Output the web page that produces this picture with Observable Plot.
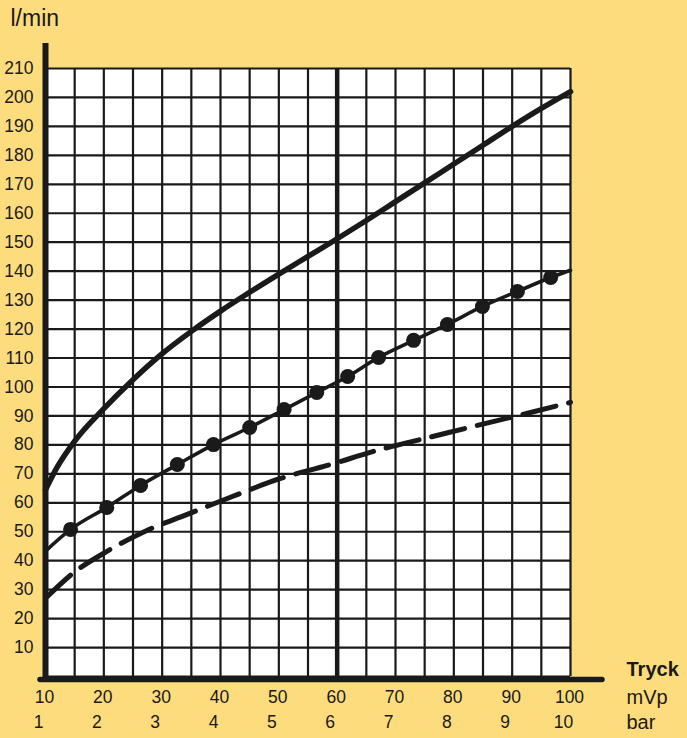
<!DOCTYPE html>
<html>
<head>
<meta charset="utf-8">
<script src="https://cdn.jsdelivr.net/npm/d3@7"></script>
<script src="https://cdn.jsdelivr.net/npm/@observablehq/plot@0.6"></script>
<style>
  html, body { margin: 0; padding: 0; background: #FDDC7E; }
</style>
</head>
<body>
<div id="chart"></div>
<script>
// Tick labels
const mvpTicks = [10, 20, 30, 40, 50, 60, 70, 80, 90, 100];
const barTicks = [1, 2, 3, 4, 5, 6, 7, 8, 9, 10];
const flowTicks = [10, 20, 30, 40, 50, 60, 70, 80, 90, 100, 110, 120, 130, 140, 150, 160, 170, 180, 190, 200, 210];

// Series: [pressure mVp, flow l/min]
const topCurve = [
  [10, 64.5], [12, 72.3], [15, 81.3], [20, 92.5], [25, 102.5], [30, 111.5],
  [35, 119.2], [40, 126.2], [45, 132.7], [50, 139], [55, 145.1], [60, 151.2],
  [65, 157.5], [70, 164], [75, 170.5], [80, 177], [85, 183.5], [90, 190],
  [95, 196.2], [100, 202]
];
const dottedPoints = [
  [14.3, 50.8], [20.5, 58.4], [26.3, 66], [32.6, 73.2], [38.8, 80.1], [45, 86],
  [50.9, 92.2], [56.5, 98.1], [61.8, 103.6], [67.1, 110.2], [73.1, 116.1],
  [78.9, 121.6], [84.9, 127.8], [90.9, 133], [96.6, 137.8]
];
const dottedStart = [10, 43.3];
const dottedEnd = [100, 140.3];
const dashedCurve = [
  [10, 27], [14.6, 35.5], [20.6, 43.3], [27.1, 50.2], [34.3, 56], [41.7, 61.9],
  [50.3, 68.4], [58.3, 72.9], [67.4, 78.4], [76, 82.7], [84.6, 87], [92.8, 91], [100, 94.7]
];

const ink = "#1b1a1a";
const xMin = 10, xMax = 100, yMin = 0, yMax = 210;
const dottedLine = [dottedStart, ...dottedPoints, dottedEnd];

const chart = Plot.plot({
  width: 687,
  height: 738,
  marginLeft: 45,
  marginRight: 117,
  marginTop: 68,
  marginBottom: 62,
  x: { domain: [xMin, xMax], axis: null },
  y: { domain: [yMin, yMax], axis: null },
  style: {
    background: "#FDDC7E",
    fontFamily: "'Liberation Sans', Arial, Helvetica, sans-serif",
    overflow: "visible"
  },
  marks: [
    Plot.frame({ fill: "white", stroke: null }),
    Plot.ruleX(d3.range(xMin, xMax + 1, 5), { stroke: ink, strokeWidth: 2.2 }),
    Plot.ruleY(d3.range(yMin, yMax + 1, 10), { stroke: ink, strokeWidth: 2.2 }),
    Plot.ruleX([60], { stroke: ink, strokeWidth: 4.5 }),
    Plot.line(topCurve, { x: d => d[0], y: d => d[1], stroke: ink, strokeWidth: 5.5, curve: "monotone-x" }),
    Plot.line(dottedLine, { x: d => d[0], y: d => d[1], stroke: ink, strokeWidth: 3.6, curve: "monotone-x" }),
    Plot.dot(dottedPoints, { x: d => d[0], y: d => d[1], r: 7.5, fill: ink, stroke: null }),
    Plot.line(dashedCurve, { x: d => d[0], y: d => d[1], stroke: ink, strokeWidth: 5, strokeDasharray: "34,13", curve: "monotone-x" }),
    // axes lines
    Plot.ruleX([xMin], { stroke: ink, strokeWidth: 6, insetTop: -25, insetBottom: -6 }),
    Plot.ruleY([yMin], { stroke: ink, strokeWidth: 5.5, dy: 3, insetLeft: -5, insetRight: -32, strokeLinecap: "round" }),
    // y tick labels
    Plot.text(flowTicks, { x: xMin, y: d => d, dx: -12, textAnchor: "end", lineAnchor: "middle", fontSize: 17.5, fill: ink }),
    // x tick labels
    Plot.text(mvpTicks, { x: d => d, y: yMin, dx: -1, dy: 21, textAnchor: "middle", lineAnchor: "middle", fontSize: 17.5, fill: ink }),
    Plot.text(barTicks, { x: (d, i) => mvpTicks[i], y: yMin, dx: -7, dy: 46, textAnchor: "middle", lineAnchor: "middle", fontSize: 17.5, fill: ink }),
    // titles
    Plot.text(["l/min"], { frameAnchor: "top-left", dx: -35, dy: -50, textAnchor: "start", lineAnchor: "middle", fontSize: 23, fill: ink }),
    Plot.text(["Tryck"], { frameAnchor: "bottom-right", dx: 56, dy: -7, textAnchor: "start", lineAnchor: "middle", fontSize: 20, fontWeight: "bold", fill: ink }),
    Plot.text(["mVp"], { frameAnchor: "bottom-right", dx: 56, dy: 21, textAnchor: "start", lineAnchor: "middle", fontSize: 20, fill: ink }),
    Plot.text(["bar"], { frameAnchor: "bottom-right", dx: 56, dy: 46, textAnchor: "start", lineAnchor: "middle", fontSize: 20, fill: ink })
  ]
});
document.getElementById("chart").appendChild(chart);
</script>
</body>
</html>
